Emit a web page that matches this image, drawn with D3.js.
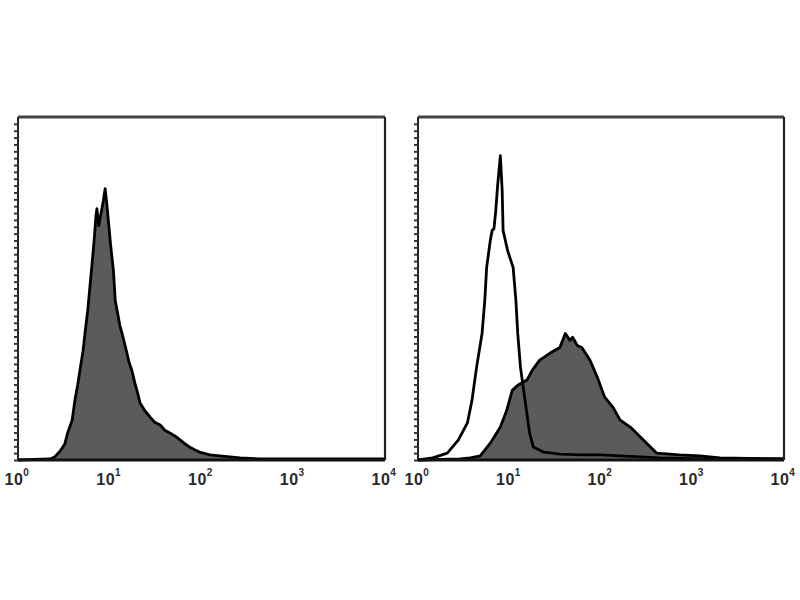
<!DOCTYPE html>
<html><head><meta charset="utf-8">
<script src="https://cdn.jsdelivr.net/npm/d3@7"></script>
<style>body{margin:0;background:#fff}</style>
</head><body>
<svg id="c" width="800" height="600"></svg>
<script>
// Decade labels on the x axis
const decades = [0, 1, 2, 3, 4];
// Left panel: filled histogram (log10 intensity, % of max scale)
const leftLog = [0.00,0.35,0.40,0.46,0.51,0.54,0.59,0.62,0.65,0.68,0.71,0.73,0.76,0.78,0.81,0.83,0.85,0.86,0.88,0.90,0.93,0.95,0.97,0.99,1.01,1.04,1.06,1.09,1.11,1.14,1.18,1.21,1.24,1.28,1.31,1.33,1.38,1.44,1.49,1.55,1.60,1.66,1.71,1.77,1.82,1.87,1.93,1.98,2.09,2.20,2.31,2.42,2.64,3.07,4.00];
const leftCount = [0,0.3,0.9,2.6,4.7,7.8,11.6,17.4,21.8,27.0,32.0,36.9,43.6,49.4,58.1,64.0,71.2,73.3,68.3,71.2,75.6,79.1,74.1,68.3,62.5,55.2,46.5,42.2,39.2,36.3,32.0,28.5,26.2,21.8,18.9,16.6,14.5,12.5,11.0,10.2,8.7,7.8,7.0,5.8,4.7,3.8,2.9,2.3,1.5,1.2,0.9,0.6,0.3,0.3,0.3];
// Right panel: open (control) histogram
const openLog = [0.00,0.16,0.32,0.44,0.54,0.59,0.64,0.70,0.73,0.75,0.79,0.81,0.83,0.85,0.87,0.90,0.92,0.93,0.98,1.04,1.07,1.09,1.12,1.17,1.22,1.26,1.37,1.55,1.78,1.99,2.21,2.43,2.64,3.08,4.00];
const openCount = [0,0.6,2.0,5.8,10.8,17.4,27.0,36.9,46.5,56.1,64.0,66.9,67.4,72.7,79.9,88.7,78.5,66.9,61.0,56.1,46.5,36.9,27.0,17.4,7.8,3.8,2.3,1.7,1.5,1.5,1.2,0.9,0.6,0.3,0.3];
// Right panel: filled (stained) histogram
const fillLog = [0.00,0.46,0.57,0.68,0.79,0.90,0.97,1.03,1.09,1.19,1.25,1.33,1.44,1.55,1.61,1.66,1.69,1.74,1.79,1.88,1.96,2.04,2.13,2.21,2.32,2.43,2.54,2.61,2.86,3.08,3.30,4.00];
const fillCount = [0,0.3,0.6,1.2,4.9,9.6,14.5,20.3,21.8,23.3,26.2,29.1,31.1,32.8,36.9,34.9,35.8,33.4,32.8,29.1,24.1,18.3,15.4,11.6,9.6,6.7,3.8,2.0,1.5,1.2,0.6,0.3];
// y-axis minor ticks (counts)
const yTicks = d3.range(0, 100, 2);

const svg = d3.select("#c");
const panels = [
  {x0: 18, x1: 385, filled: [leftLog, leftCount], open: null},
  {x0: 418, x1: 784, filled: [fillLog, fillCount], open: [openLog, openCount]}
];
const yTop = 117, yBot = 460;

panels.forEach(p => {
  const x = d3.scaleLog().domain([1, 1e4]).range([p.x0, p.x1]);
  const y = d3.scaleLinear().domain([0, 100]).range([yBot, yTop]);
  const g = svg.append("g");
  const pts = (L, C) => L.map((v, i) => [Math.pow(10, v), C[i]]);

  const fd = pts(p.filled[0], p.filled[1]);
  g.append("path").datum(fd)
    .attr("d", d3.area().x(d => x(d[0])).y0(y(0)).y1(d => y(d[1])))
    .attr("fill", "#5b5b5b");
  g.append("path").datum(fd)
    .attr("d", d3.line().x(d => x(d[0])).y(d => y(d[1])))
    .attr("fill", "none").attr("stroke", "#000").attr("stroke-width", 2.8)
    .attr("stroke-linejoin", "round");
  if (p.open) {
    const od = pts(p.open[0], p.open[1]);
    g.append("path").datum(od)
      .attr("d", d3.line().x(d => x(d[0])).y(d => y(d[1])))
      .attr("fill", "none").attr("stroke", "#000").attr("stroke-width", 2.8)
      .attr("stroke-linejoin", "round");
  }
  // frame
  g.append("line").attr("x1", p.x0).attr("x2", p.x1).attr("y1", yTop).attr("y2", yTop)
    .attr("stroke", "#444").attr("stroke-width", 3);
  g.append("line").attr("x1", p.x1).attr("x2", p.x1).attr("y1", yTop).attr("y2", yBot)
    .attr("stroke", "#222").attr("stroke-width", 2.2);
  g.append("line").attr("x1", p.x0).attr("x2", p.x1).attr("y1", yBot).attr("y2", yBot)
    .attr("stroke", "#111").attr("stroke-width", 3);
  g.append("line").attr("x1", p.x0).attr("x2", p.x0).attr("y1", yTop).attr("y2", yBot)
    .attr("stroke", "#222").attr("stroke-width", 2);
  // y axis dense ticks
  const ya = g.append("g").attr("transform", `translate(${p.x0},0)`)
    .call(d3.axisLeft(y).tickValues(yTicks).tickSize(4).tickFormat(""));
  ya.select(".domain").remove();
  ya.selectAll("line").attr("stroke", "#333").attr("stroke-width", 2);
  // x labels
  decades.forEach(d => {
    const t = g.append("text")
      .attr("x", x(Math.pow(10, d)) - 1).attr("y", 485)
      .attr("text-anchor", "middle")
      .attr("font-family", "Liberation Sans, Arial, sans-serif")
      .attr("font-size", 16).attr("font-weight", "bold").attr("fill", "#2a2a2a")
      .attr("letter-spacing", 0.5);
    t.append("tspan").text("10");
    t.append("tspan").attr("dy", -9).attr("font-size", 10).text(String(d));
  });
});
</script>
</body></html>
